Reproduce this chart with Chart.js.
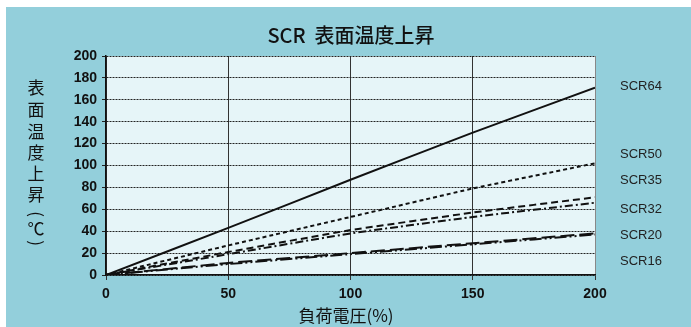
<!DOCTYPE html>
<html>
<head>
<meta charset="utf-8">
<script src="https://cdn.jsdelivr.net/npm/chart.js@4.4.0/dist/chart.umd.min.js"></script>
<style>
body { margin: 0; background: #fff; }
#wrap { width: 691px; height: 327px; position: relative; }
</style>
</head>
<body>
<div id="wrap"><canvas id="myChart" width="691" height="327"></canvas></div>
<script>
// load voltage (%)
var voltage = [0, 50, 100, 150, 200];
var seriesNames = ['SCR64', 'SCR50', 'SCR35', 'SCR32', 'SCR20', 'SCR16'];
var scr64 = [0, 43, 87, 130, 171];
var scr50 = [0, 27, 53, 79, 102];
var scr35 = [0, 21, 41, 57, 71];
var scr32 = [0, 19, 38, 53, 66];
var scr20 = [0, 11, 20, 29, 38];
var scr16 = [0, 10, 19, 28, 37];
// where the right side labels sit (in degrees)
var labelLevels = [172, 110, 86, 60, 36, 12];
var yTicks = [0, 20, 40, 60, 80, 100, 120, 140, 160, 180, 200];
var xTicks = [0, 50, 100, 150, 200];

var values = [scr64, scr50, scr35, scr32, scr20, scr16];
var dashes = [[], [4, 3], [7, 4], [8, 3, 2, 3], [14, 5], [12, 3, 2, 3, 2, 3]];

function toPoints(arr) {
	return arr.map(function(v, i) { return { x: voltage[i], y: v }; });
}

var datasets = seriesNames.map(function(name, i) {
	return {
		label: name,
		data: toPoints(values[i]),
		borderColor: '#111',
		borderWidth: 2,
		borderDash: dashes[i],
		pointRadius: 0,
		fill: false,
		tension: 0.1
	};
});

var decor = {
	id: 'decor',
	beforeDraw: function(chart) {
		var ctx = chart.ctx;
		var a = chart.chartArea;
		ctx.save();
		ctx.fillStyle = '#93CFDB';
		ctx.fillRect(6, 7, chart.width - 6, chart.height - 7);
		ctx.fillStyle = '#E6F5F8';
		ctx.fillRect(a.left, a.top, a.right - a.left, a.bottom - a.top);
		ctx.restore();
	},
	afterDraw: function(chart) {
		var ctx = chart.ctx;
		var y = chart.scales.y;
		ctx.save();
		ctx.fillStyle = '#111';
		ctx.textAlign = 'center';
		ctx.textBaseline = 'middle';
		ctx.font = '500 20px "Noto Sans CJK JP", sans-serif';
		ctx.fillText('SCR  表面温度上昇', 351, 35);
		ctx.font = '17px "Noto Sans CJK JP", sans-serif';
		ctx.fillText('負荷電圧(%)', 346, 316);
		var chars = ['表', '面', '温', '度', '上', '昇'];
		var cy = [88, 110, 132, 153, 174, 195];
		ctx.font = '17px "Noto Sans CJK JP", sans-serif';
		chars.forEach(function(c, i) {
			ctx.fillText(c, 36, cy[i]);
		});
		ctx.fillText('℃', 36, 229);
		// rotated brackets
		ctx.save();
		ctx.translate(36, 214);
		ctx.rotate(Math.PI / 2);
		ctx.fillText('(', 0, 0);
		ctx.restore();
		ctx.save();
		ctx.translate(36, 243);
		ctx.rotate(Math.PI / 2);
		ctx.fillText(')', 0, 0);
		ctx.restore();
		ctx.font = '13px "Liberation Sans", Arial, sans-serif';
		ctx.textAlign = 'left';
		ctx.fillStyle = '#222';
		seriesNames.forEach(function(n, i) {
			ctx.fillText(n, 620, y.getPixelForValue(labelLevels[i]));
		});
		ctx.restore();
	}
};

var ctx = document.getElementById('myChart');
var myChart = new Chart(ctx, {
	type: 'line',
	data: { datasets: datasets },
	options: {
		responsive: false,
		animation: { duration: 0 },
		layout: { padding: { left: 0, right: 96, top: 56, bottom: 0 } },
		plugins: { legend: { display: false }, tooltip: { enabled: false }, title: { display: false } },
		scales: {
			x: {
				type: 'linear',
				min: 0, max: 200,
				afterFit: function(s) { s.height = 52; },
				afterBuildTicks: function(s) { s.ticks = xTicks.map(function(v) { return { value: v }; }); },
				ticks: { color: '#111', font: { family: '"Liberation Sans", Arial', size: 14, weight: 'bold' }, padding: 6, maxRotation: 0 },
				grid: {
					color: function(c) { return c.tick && c.tick.value == 200 ? '#888' : '#333'; },
					lineWidth: 1,
					tickLength: 5,
					tickColor: '#333'
				},
				border: { color: '#111', width: 1.5 }
			},
			y: {
				min: 0, max: 200,
				afterFit: function(s) { s.width = 106; },
				afterBuildTicks: function(s) { s.ticks = yTicks.map(function(v) { return { value: v }; }); },
				ticks: { color: '#111', font: { family: '"Liberation Sans", Arial', size: 14, weight: 'bold' }, padding: 5 },
				grid: {
					color: '#222',
					lineWidth: 1,
					tickLength: 4,
					tickColor: '#222',
					tickBorderDash: []
				},
				border: { color: '#111', width: 1.5, dash: [2, 1] }
			}
		}
	},
	plugins: [decor]
});
</script>
</body>
</html>
